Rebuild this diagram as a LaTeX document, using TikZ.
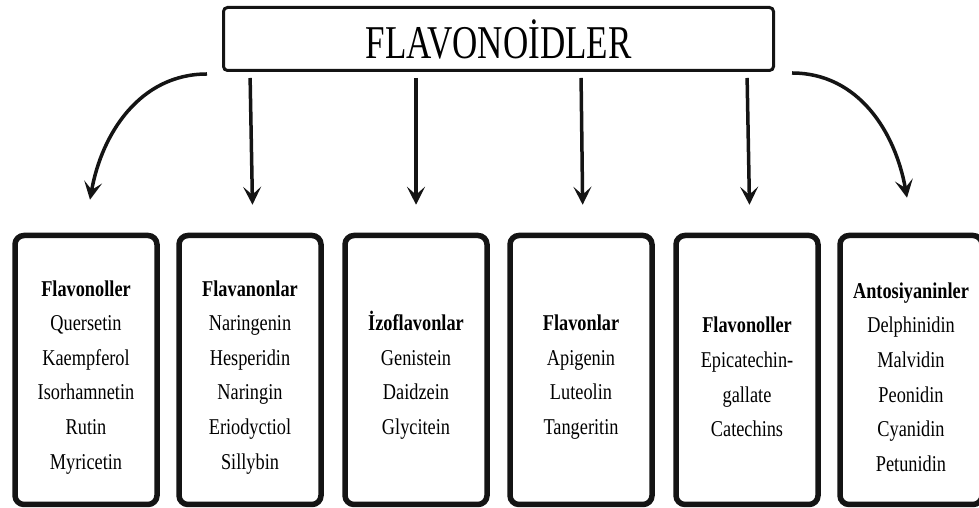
\documentclass[tikz,border=0pt]{standalone}
\usepackage{fontspec}
\setmainfont{Liberation Serif}[FakeStretch=0.81]
\newfontfamily\titlefont{Liberation Serif}[FakeStretch=0.745]
\usetikzlibrary{arrows.meta}
\definecolor{fl-black}{RGB}{ 20, 20, 20}
\newcommand\lift{\rule{0pt}{30pt}}

\begin{document}
\begin{tikzpicture}[x=1pt,y=1pt,
	head/.style={draw=fl-black, line width=3pt, rounded corners=4pt,
		minimum width=550pt, minimum height=63pt, inner sep=0pt,
		font=\titlefont\fontsize{47}{47}\selectfont},
	group/.style={draw=fl-black, line width=5.5pt, rounded corners=9pt,
		minimum width=142pt, minimum height=269pt, inner sep=0pt,
		align=center, font=\fontsize{22.6}{34.6}\selectfont},
	link/.style={draw=fl-black, line width=3.5pt,
		-{Stealth[length=18pt,width=18pt,inset=8pt]}}
]
\useasboundingbox (0,0) rectangle (979,508);

% top
\node[head] (flav) at (498.5,469) {FLAVONOİDLER};

% groups
\node[group] (b1) at (86,138)  {\lift\textbf{Flavonoller}\\Quersetin\\Kaempferol\\Isorhamnetin\\Rutin\\Myricetin};
\node[group] (b2) at (250,138) {\lift\textbf{Flavanonlar}\\Naringenin\\Hesperidin\\Naringin\\Eriodyctiol\\Sillybin};
\node[group] (b3) at (416,138) {\lift\textbf{İzoflavonlar}\\Genistein\\Daidzein\\Glycitein};
\node[group] (b4) at (581,138) {\lift\textbf{Flavonlar}\\Apigenin\\Luteolin\\Tangeritin};
\node[group] (b5) at (747,138) {\lift\textbf{Flavonoller}\\Epicatechin-\\gallate\\Catechins};
\node[group] (b6) at (911,138) {\lift\textbf{Antosiyaninler}\\Delphinidin\\Malvidin\\Peonidin\\Cyanidin\\Petunidin};

% arrows
\draw[link] ([xshift=-15pt,yshift=-2pt]flav.south west) to[out=180,in=80] ([xshift=4pt,yshift=33pt]b1.north);
\draw[link, shorten <=6pt, shorten >=28pt] (flav.south -| b2) -- ([xshift=3pt]b2.north);
\draw[link, shorten <=6pt, shorten >=28pt] (flav.south -| b3) -- (b3.north);
\draw[link, shorten <=6pt, shorten >=28pt] (flav.south -| b4) -- ([xshift=2pt]b4.north);
\draw[link, shorten <=6pt, shorten >=28pt] (flav.south -| b5) -- ([xshift=3pt]b5.north);
\draw[link] ([xshift=17pt,yshift=-1pt]flav.south east) to[out=0,in=100] ([xshift=-4pt,yshift=35pt]b6.north);

\end{tikzpicture}
\end{document}
